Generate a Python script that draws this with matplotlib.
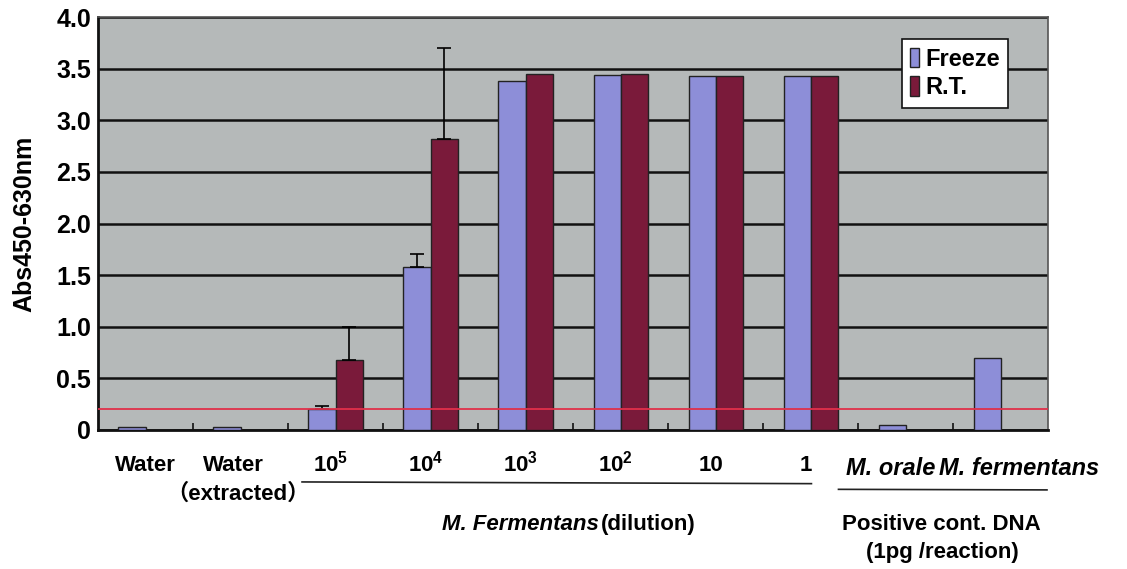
import numpy as np
import matplotlib.pyplot as plt
import matplotlib.transforms as mtransforms
from matplotlib.lines import Line2D

plt.rcParams['font.family'] = ['Liberation Sans', 'Noto Sans CJK JP', 'DejaVu Sans']
plt.rcParams['font.weight'] = 'bold'
plt.rcParams['mathtext.fontset'] = 'custom'
plt.rcParams['mathtext.rm'] = 'Liberation Sans:bold'
plt.rcParams['mathtext.bf'] = 'Liberation Sans:bold'

# data
groups = ['Water', 'Water', '$10^5$', '$10^4$', '$10^3$', '$10^2$', '10', '1',
          'M. orale', 'M. fermentans']
freeze = [0.03, 0.03, 0.20, 1.58, 3.38, 3.44, 3.43, 3.43, 0.05, 0.70]
rt = [0, 0, 0.68, 2.82, 3.45, 3.45, 3.43, 3.43, 0, 0]
freeze_err = [0, 0, 0.03, 0.12, 0, 0, 0, 0, 0, 0]
rt_err = [0, 0, 0.32, 0.88, 0, 0, 0, 0, 0, 0]
cutoff = 0.2
yticks = [0, 0.5, 1.0, 1.5, 2.0, 2.5, 3.0, 3.5, 4.0]
ytick_labels = ['0', '0.5', '1.0', '1.5', '2.0', '2.5', '3.0', '3.5', '4.0']

c_freeze = '#8d8ed8'
c_rt = '#7a1a3a'
c_bg = '#b5b9b9'

fig = plt.figure(figsize=(11.27, 5.69), dpi=100)
ax = fig.add_axes([0.087, 0.2443, 0.843, 0.7258])
ax.set_facecolor(c_bg)

x = np.arange(len(groups))
w = 0.285
ax.bar(x - w / 2, freeze, w, color=c_freeze, edgecolor='#222222', linewidth=1.0,
       label='Freeze', zorder=3)
ax.bar(x + w / 2, rt, w, color=c_rt, edgecolor='#222222', linewidth=1.0,
       label='R.T.', zorder=3)

# upward error bars only
for xi, v, e in zip(x - w / 2, freeze, freeze_err):
    if e > 0:
        ax.errorbar(xi, v, yerr=[[0], [e]], fmt='none', ecolor='black',
                    elinewidth=1.2, capsize=5, capthick=1.2, zorder=4)
for xi, v, e in zip(x + w / 2, rt, rt_err):
    if e > 0:
        ax.errorbar(xi, v, yerr=[[0], [e]], fmt='none', ecolor='black',
                    elinewidth=1.2, capsize=5, capthick=1.2, zorder=4)

ax.axhline(cutoff, color='#e0304a', linewidth=1.3, zorder=5)

ax.set_xlim(-0.5, len(groups) - 0.5)
ax.set_ylim(0, 4.0)
ax.set_yticks(yticks)
ax.set_yticklabels(ytick_labels, fontsize=18, fontweight='bold')
ax.tick_params(axis='y', length=0, pad=5)
ax.yaxis.grid(True, color='#111111', linewidth=1.8)
ax.set_axisbelow(True)

ax.set_xticks([])
ax.set_xticks(np.arange(0.5, len(groups) - 0.5), minor=True)
ax.tick_params(axis='x', which='minor', direction='in', length=5, width=1.2,
               color='#111111')

for s in ['left', 'bottom']:
    ax.spines[s].set_linewidth(2.0)
    ax.spines[s].set_color('#111111')
for s in ['top', 'right']:
    ax.spines[s].set_linewidth(1.2)
    ax.spines[s].set_color('#555555')

ax.set_ylabel('Abs450-630nm', fontsize=18, fontweight='bold', labelpad=14)

# category labels under the axis
tr = mtransforms.blended_transform_factory(ax.transData, fig.transFigure)
ax.text(0.0, 0.172, groups[0], transform=tr, ha='center', fontsize=16)
ax.text(0.93, 0.172, groups[1], transform=tr, ha='center', fontsize=16)
ax.text(0.97, 0.121, '（extracted）', transform=tr, ha='center', fontsize=16)
for xi, g in zip(x[2:8], groups[2:8]):
    ax.text(xi - 0.05, 0.172, g, transform=tr, ha='center', fontsize=16)
ax.text(8.31, 0.165, groups[8], transform=tr, ha='right', fontsize=17,
        style='italic')
ax.text(8.35, 0.165, groups[9], transform=tr, ha='left', fontsize=17,
        style='italic')

# group lines and captions
fig.add_artist(Line2D([0.268, 0.72], [0.153, 0.150], color='#222222', linewidth=1.2))
fig.add_artist(Line2D([0.744, 0.929], [0.140, 0.139], color='#222222', linewidth=1.2))
fig.text(0.531, 0.069, 'M. Fermentans', ha='right', fontsize=16, style='italic')
fig.text(0.533, 0.069, '(dilution)', ha='left', fontsize=16)
fig.text(0.835, 0.069, 'Positive cont. DNA', ha='center', fontsize=16)
fig.text(0.836, 0.02, '(1pg /reaction)', ha='center', fontsize=16)

leg = ax.legend(loc='upper left', bbox_to_anchor=(0.800, 0.931),
                bbox_transform=fig.transFigure, fontsize=17, frameon=True,
                fancybox=False, handlelength=0.4, handleheight=0.9,
                handletextpad=0.25, borderpad=0.35, labelspacing=0.25,
                borderaxespad=0)
leg.get_frame().set_edgecolor('#111111')
leg.get_frame().set_linewidth(1.2)
leg.get_frame().set_facecolor('white')
leg.get_frame().set_alpha(1)
leg.set_zorder(10)

plt.savefig('out.png', dpi=100)
